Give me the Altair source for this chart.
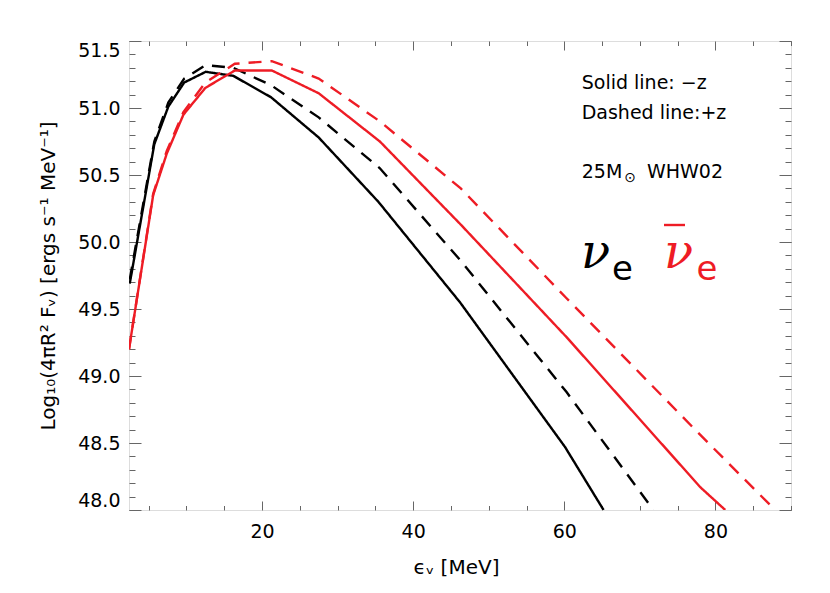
import altair as alt
import pandas as pd

# ---------------- data ----------------
# nu_e, -z (solid black)
nue_minus_E = [2.5, 5.75, 7.6, 9.7, 12.55, 16.2, 21.2, 27.5, 35.4, 46.2, 60.1, 65.2]
nue_minus_F = [49.69, 50.73, 51.01, 51.19, 51.27, 51.24, 51.08, 50.78, 50.30, 49.55, 48.47, 48.0]
# nu_e, +z (dashed black)
nue_plus_E = [2.5, 5.75, 7.6, 9.7, 12.55, 16.2, 21.2, 27.5, 35.6, 46.3, 60.3, 71.8]
nue_plus_F = [49.72, 50.75, 51.04, 51.22, 51.32, 51.30, 51.17, 50.93, 50.55, 49.86, 48.88, 48.0]
# anti nu_e, -z (solid red)
anue_minus_E = [2.4, 5.6, 7.4, 9.6, 12.5, 16.4, 21.3, 27.5, 35.6, 46.3, 60.3, 78.0, 81.3]
anue_minus_F = [49.2, 50.35, 50.66, 50.95, 51.15, 51.28, 51.28, 51.11, 50.75, 50.13, 49.29, 48.17, 48.0]
# anti nu_e, +z (dashed red)
anue_plus_E = [2.4, 5.6, 7.4, 9.6, 12.5, 16.4, 21.3, 27.5, 35.6, 46.3, 60.3, 78.0, 87.9]
anue_plus_F = [49.2, 50.36, 50.68, 50.97, 51.19, 51.33, 51.35, 51.22, 50.90, 50.40, 49.58, 48.56, 48.0]

x_domain = [2.4, 90.0]
y_domain = [48.0, 51.5]
x_major = [20, 40, 60, 80]
x_minor = [5, 10, 15, 25, 30, 35, 45, 50, 55, 65, 70, 75, 85, 90]
y_major = [48.0, 48.5, 49.0, 49.5, 50.0, 50.5, 51.0, 51.5]
y_minor = [round(48.0 + 0.1 * i, 1) for i in range(36)]

rows = []
for name, style, E, F in [
    ("nue", "solid", nue_minus_E, nue_minus_F),
    ("nue", "dashed", nue_plus_E, nue_plus_F),
    ("anue", "solid", anue_minus_E, anue_minus_F),
    ("anue", "dashed", anue_plus_E, anue_plus_F),
]:
    for i, (e, f) in enumerate(zip(E, F)):
        rows.append({"E": e, "F": f, "flavor": name, "style": style,
                     "curve": name + style, "order": i})
df = pd.DataFrame(rows)

W, H = 662, 469
FONT = "DejaVu Sans"
RED = "#ee1c25"
TICK = "#666666"

xs = alt.Scale(domain=x_domain, nice=False, zero=False)
ys = alt.Scale(domain=y_domain, nice=False, zero=False)

lines = alt.Chart(df).mark_line(strokeWidth=2.4, clip=True).encode(
    x=alt.X("E:Q", scale=xs, axis=alt.Axis(
        values=x_major, tickSize=0, domain=False, grid=False, labelFlush=False,
        labelPadding=12, labelFontSize=19, labelFont=FONT, labelColor="black",
        title="ϵᵥ  [MeV]", titleFont=FONT, titleFontSize=20, titleFontWeight="normal",
        titleColor="black", titleX=327, titleY=57, titleBaseline="middle")),
    y=alt.Y("F:Q", scale=ys, axis=alt.Axis(
        values=y_major, format=".1f", tickSize=0, domain=False, grid=False,
        labelFlush=True, labelPadding=9, labelFontSize=19, labelFont=FONT,
        labelColor="black",
        title="Log₁₀(4πR²  Fᵥ)  [ergs  s⁻¹  MeV⁻¹]", titleFont=FONT, titleFontSize=20,
        titleFontWeight="normal", titleColor="black", titleX=-81, titleY=H / 2,
        titleAlign="center", titleBaseline="middle", titleAngle=-90)),
    color=alt.Color("flavor:N", scale=alt.Scale(domain=["nue", "anue"], range=["black", RED]), legend=None),
    strokeDash=alt.StrokeDash("style:N", scale=alt.Scale(domain=["solid", "dashed"], range=[[1, 0], [13, 9]]), legend=None),
    detail="curve:N",
    order="order:Q",
)


def tick_layer(xorient, yorient, xvals, yvals, xsize, ysize):
    return alt.Chart(df).mark_point(opacity=0).encode(
        x=alt.X("E:Q", scale=xs, axis=alt.Axis(
            orient=xorient, offset=-H, values=xvals, tickSize=xsize, labels=False,
            domain=False, grid=False, title=None, tickColor=TICK, tickWidth=1)),
        y=alt.Y("F:Q", scale=ys, axis=alt.Axis(
            orient=yorient, offset=-W, values=yvals, tickSize=ysize, labels=False,
            domain=False, grid=False, title=None, tickColor=TICK, tickWidth=1)),
    )


t1 = tick_layer("top", "right", x_major, y_major, 9, 12)     # bottom & left edges, inward
t2 = tick_layer("top", "right", x_minor, y_minor, 4.5, 6)
t3 = tick_layer("bottom", "left", x_major, y_major, 9, 12)   # top & right edges, inward
t4 = tick_layer("bottom", "left", x_minor, y_minor, 4.5, 6)


def label(txt, x, y, size, color="black", font=FONT, style="normal", align="left", baseline="alphabetic"):
    return alt.Chart(alt.Data(values=[{}])).mark_text(
        text=txt, x=x, y=y, fontSize=size, color=color, font=font,
        fontStyle=style, align=align, baseline=baseline)


ann = [
    label("Solid line: −z", 452.7, 48.3, 19),
    label("Dashed line:+z", 452.7, 78.3, 19),
    label("25M", 452.7, 137, 19),
    label("⊙", 501, 137, 14, align="center", baseline="middle"),
    label("WHW02", 518, 137, 19),
    label("ν", 452, 227, 48, font="DejaVu Serif", style="italic"),
    label("e", 483, 239, 34),
    label("ν", 535, 227, 48, color=RED, font="DejaVu Serif", style="italic"),
    label("e", 567.5, 239, 34, color=RED),
]

bar = alt.Chart(alt.Data(values=[{}])).mark_rule(color=RED, strokeWidth=2.4).encode(
    x=alt.value(535), x2=alt.value(556), y=alt.value(184))

chart = alt.layer(lines, t1, t2, t3, t4, *ann, bar).resolve_scale(
    x="independent", y="independent"
).properties(
    width=W, height=H,
    autosize=alt.AutoSizeParams(type="none"),
    padding={"left": 121, "top": 33, "right": 30, "bottom": 70},
).configure_view(stroke="#555555", strokeWidth=1.3).configure(background="white")

chart.save("out.html", embed_options={"renderer": "svg", "actions": False})
